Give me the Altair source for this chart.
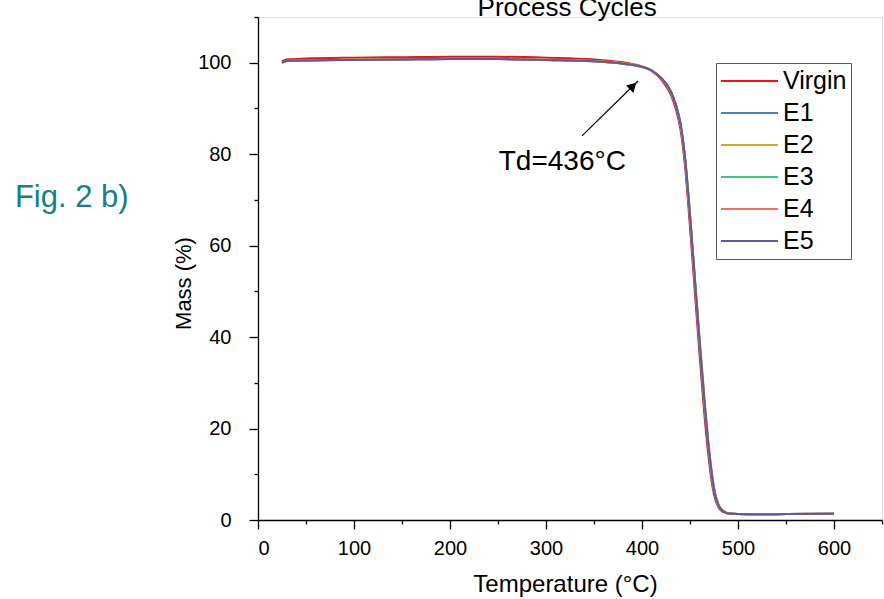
import altair as alt
import pandas as pd

FONT = "Liberation Sans"

# ---- data ----
temps = [25, 30, 50, 100, 150, 200, 250, 300, 350, 380, 400, 410, 420, 430, 435,
         440, 445, 450, 455, 460, 465, 470, 475, 480, 485, 490, 500, 520, 550, 600]
virgin = [100.3, 100.7, 100.9, 101.1, 101.2, 101.3, 101.3, 101.1, 100.7, 100.1, 99.2, 98.2, 96.3, 93.0, 90.0,
          85.5, 77.0, 64.0, 50.0, 36.0, 23.0, 12.5, 5.5, 2.6, 1.7, 1.4, 1.3, 1.25, 1.3, 1.35]
e1 = [100.0, 100.4, 100.5, 100.6, 100.7, 100.8, 100.8, 100.6, 100.3, 99.8, 99.1, 98.3, 96.6, 93.6, 90.8,
      86.5, 78.5, 66.0, 52.0, 38.0, 25.0, 14.0, 6.3, 2.9, 1.8, 1.4, 1.3, 1.25, 1.3, 1.35]
e2 = [100.0, 100.4, 100.5, 100.7, 100.8, 100.8, 100.8, 100.7, 100.4, 99.9, 99.2, 98.4, 96.7, 93.7, 91.0,
      86.8, 79.0, 67.0, 53.5, 40.0, 27.0, 15.5, 7.2, 3.3, 2.0, 1.5, 1.3, 1.25, 1.3, 1.35]
e3 = [100.0, 100.4, 100.5, 100.6, 100.7, 100.8, 100.8, 100.6, 100.3, 99.8, 99.1, 98.3, 96.6, 93.6, 90.9,
      86.6, 78.7, 66.3, 52.5, 38.5, 25.5, 14.3, 6.5, 3.0, 1.8, 1.4, 1.3, 1.25, 1.3, 1.35]
e4 = [100.0, 100.4, 100.5, 100.6, 100.7, 100.8, 100.8, 100.6, 100.3, 99.8, 99.1, 98.3, 96.6, 93.7, 90.9,
      86.7, 78.8, 66.5, 52.8, 39.0, 26.0, 14.8, 6.8, 3.1, 1.9, 1.4, 1.3, 1.25, 1.3, 1.35]
e5 = [100.0, 100.4, 100.5, 100.6, 100.7, 100.8, 100.8, 100.6, 100.3, 99.8, 99.1, 98.3, 96.7, 93.8, 91.0,
      86.9, 79.0, 66.8, 53.0, 39.2, 26.2, 15.0, 6.9, 3.1, 1.9, 1.4, 1.3, 1.25, 1.3, 1.35]

series_names = ["Virgin", "E1", "E2", "E3", "E4", "E5"]
series_values = [virgin, e1, e2, e3, e4, e5]
series_colors = ["#e8141b", "#4f7fb8", "#d4a32a", "#3fc878", "#f76b6b", "#5c5c9c"]

x_ticks = [0, 50, 100, 150, 200, 250, 300, 350, 400, 450, 500, 550, 600, 650]
y_ticks = [0, 10, 20, 30, 40, 50, 60, 70, 80, 90, 100, 110]

title_text = ["Process Cycles"]
title_x = [322.0]
title_y = [110.0]
annot_text = ["Td=436°C"]
annot_x = [317.0]
annot_y = [78.3]
arrow_from = [337.5, 84.0]
arrow_to = [395.8, 96.0]
arrow_head = [390.6, 94.9]
fig_label = ["Fig. 2 b)"]
fig_x = [-194.0]
fig_y = [70.5]

rows = []
for name, vals in zip(series_names, series_values):
    for t, m in zip(temps, vals):
        rows.append({"Temperature": t, "Mass": m, "Series": name})
df = pd.DataFrame(rows)

xs = alt.Scale(domain=[0, 650], nice=False, zero=False)
ys = alt.Scale(domain=[0, 110], nice=False, zero=False)

axis_common = dict(grid=False, domainColor="black", tickColor="black", domainWidth=1.3,
                   tickWidth=1.3, labelFont=FONT, labelFontSize=20, labelColor="black",
                   titleFont=FONT, titleFontWeight="normal", titleColor="black")

lines = alt.Chart(df).mark_line(strokeWidth=2, interpolate="monotone").encode(
    x=alt.X("Temperature:Q", scale=xs,
            axis=alt.Axis(values=x_ticks,
                          tickSize={"condition": {"test": "datum.value % 100 !== 0", "value": 4}, "value": 9},
                          labelExpr="datum.value % 100 === 0 && datum.value <= 600 ? datum.label : ''",
                          labelPadding=9, title="Temperature (°C)", titlePadding=14, titleFontSize=24,
                          titleX=307, orient="bottom", **axis_common)),
    y=alt.Y("Mass:Q", scale=ys,
            axis=alt.Axis(values=y_ticks,
                          tickSize={"condition": {"test": "datum.value % 20 !== 0", "value": 4}, "value": 9},
                          labelExpr="datum.value % 20 === 0 && datum.value <= 100 ? datum.label : ''",
                          labelPadding=18, title="Mass (%)", titlePadding=2, titleFontSize=22,
                          titleY=266, orient="left", **axis_common)),
    color=alt.Color("Series:N", scale=alt.Scale(domain=series_names, range=series_colors),
                    legend=alt.Legend(title=None, orient="none", legendX=458, legendY=46,
                                      symbolType="stroke", symbolSize=3249, symbolStrokeWidth=2,
                                      clipHeight=28, rowPadding=4,
                                      labelFont=FONT, labelFontSize=25, labelColor="black",
                                      strokeColor="#555555", padding=4, fillColor="white")),
    order=alt.Order("Series:N"),
)

tdf = pd.DataFrame({"x": title_x, "y": title_y, "t": title_text})
title = alt.Chart(tdf).mark_text(font=FONT, fontSize=26, color="black", baseline="alphabetic", dy=-1).encode(
    x=alt.X("x:Q", scale=xs), y=alt.Y("y:Q", scale=ys), text="t:N")

adf = pd.DataFrame({"x": annot_x, "y": annot_y, "t": annot_text})
annot = alt.Chart(adf).mark_text(font=FONT, fontSize=28, color="black").encode(
    x=alt.X("x:Q", scale=xs), y=alt.Y("y:Q", scale=ys), text="t:N")

rdf = pd.DataFrame({"x": [arrow_from[0]], "y": [arrow_from[1]], "x2": [arrow_to[0]], "y2": [arrow_to[1]]})
arrow = alt.Chart(rdf).mark_rule(color="black", strokeWidth=1.2).encode(
    x=alt.X("x:Q", scale=xs), y=alt.Y("y:Q", scale=ys), x2="x2:Q", y2="y2:Q")

hdf = pd.DataFrame({"x": [arrow_head[0]], "y": [arrow_head[1]]})
head = alt.Chart(hdf).mark_point(shape="triangle-up", filled=True, color="black", opacity=1,
                                 size=110, angle=45).encode(
    x=alt.X("x:Q", scale=xs), y=alt.Y("y:Q", scale=ys))

fdf = pd.DataFrame({"x": fig_x, "y": fig_y, "t": fig_label})
fig = alt.Chart(fdf).mark_text(font=FONT, fontSize=31, color="#13808a").encode(
    x=alt.X("x:Q", scale=xs), y=alt.Y("y:Q", scale=ys), text="t:N")

chart = alt.layer(lines, title, annot, arrow, head, fig).properties(
    width=624, height=503,
    autosize=alt.AutoSizeParams(type="none"),
    padding={"left": 258, "top": 17, "right": 2, "bottom": 79},
).configure_view(stroke="black", strokeWidth=1.3).configure(background="white")

chart.save("out.html", embed_options={"renderer": "svg", "actions": False})
